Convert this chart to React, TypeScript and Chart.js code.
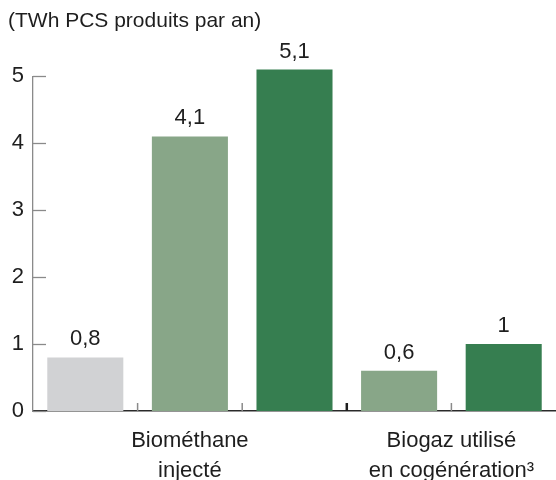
import React, { useEffect, useRef } from "react";
import { Chart, registerables } from "chart.js";

Chart.register(...registerables);

// ---- data ----
const unitLabel = "(TWh PCS produits par an)";
const groupLabels: string[][] = [
  ["Biométhane", "injecté"],
  ["Biogaz utilisé", "en cogénération³"],
];
// series per group (null = absent in that group)
const seriesGrey: (number | null)[] = [0.8, null];
const seriesLight: (number | null)[] = [4.1, 0.6];
const seriesDark: (number | null)[] = [5.1, 1];
const yTicks = [0, 1, 2, 3, 4, 5];

const FONT = "'Liberation Sans', Arial, sans-serif";
const TEXT = "#1e1e1e";
const COLORS = ["#d1d2d4", "#88a688", "#367e50"];

// build slot layout: each present series value occupies one slot
const allSeries = [seriesGrey, seriesLight, seriesDark];
type Slot = { series: number; value: number; group: number };
const slots: Slot[] = [];
const groupStarts: number[] = [];
const groupSizes: number[] = [];
groupLabels.forEach((_, g) => {
  groupStarts.push(slots.length);
  allSeries.forEach((s, si) => {
    const v = s[g];
    if (v !== null && v !== undefined) slots.push({ series: si, value: v, group: g });
  });
  groupSizes.push(slots.length - groupStarts[g]);
});
const slotLabels = slots.map((_, i) => String(i));
const datasetsData = allSeries.map((_, si) =>
  slots.map((s) => (s.series === si ? s.value : null))
);
// half-slot label axis
const halfLabels: (string | string[])[] = Array.from({ length: slots.length * 2 + 1 }, () => "");
groupLabels.forEach((lbl, g) => {
  halfLabels[2 * groupStarts[g] + groupSizes[g]] = lbl;
});

const fmt = (v: number) => String(v).replace(".", ",");

const valueLabels = {
  id: "valueLabels",
  afterDatasetsDraw(chart: any) {
    const ctx = chart.ctx;
    ctx.save();
    ctx.font = `22px ${FONT}`;
    ctx.fillStyle = TEXT;
    ctx.textAlign = "center";
    ctx.textBaseline = "alphabetic";
    chart.data.datasets.forEach((ds: any, di: number) => {
      const meta = chart.getDatasetMeta(di);
      meta.data.forEach((el: any, i: number) => {
        const v = ds.data[i];
        if (v === null || v === undefined) return;
        ctx.fillText(fmt(v), el.x, el.y - 12);
      });
    });
    ctx.restore();
  },
};

const innerTicks = {
  id: "innerTicks",
  afterDraw(chart: any) {
    const ctx = chart.ctx;
    const { left, bottom } = chart.chartArea;
    const ys = chart.scales.y;
    const xs = chart.scales.x;
    ctx.save();
    ctx.strokeStyle = "#8a8a8a";
    ctx.lineWidth = 1.3;
    yTicks.forEach((v) => {
      const y = Math.round(ys.getPixelForValue(v)) + 0.5;
      ctx.beginPath();
      ctx.moveTo(left, y);
      ctx.lineTo(left + 13, y);
      ctx.stroke();
    });
    const sepIdx = new Set(groupStarts.slice(1));
    for (let i = 1; i < slots.length; i++) {
      const x = (xs.getPixelForValue(i - 1) + xs.getPixelForValue(i)) / 2;
      const isSep = sepIdx.has(i);
      ctx.strokeStyle = isSep ? "#1e1e1e" : "#8a8a8a";
      ctx.lineWidth = isSep ? 2.5 : 1.5;
      ctx.beginPath();
      ctx.moveTo(x, bottom);
      ctx.lineTo(x, bottom - 8);
      ctx.stroke();
    }
    ctx.restore();
  },
};

export default function App() {
  const ref = useRef<HTMLCanvasElement | null>(null);
  useEffect(() => {
    if (!ref.current) return;
    const chart = new Chart(ref.current, {
      type: "bar",
      data: {
        labels: slotLabels,
        datasets: datasetsData.map((d, si) => ({
          label: "s" + si,
          data: d,
          backgroundColor: COLORS[si],
          borderWidth: 0,
          grouped: false,
          barPercentage: 0.727,
          categoryPercentage: 1,
          clip: false,
        })) as any,
      },
      options: {
        animation: false,
        responsive: true,
        maintainAspectRatio: false,
        layout: { padding: { left: 8, right: 0, top: 0, bottom: 0 } },
        plugins: {
          legend: { display: false },
          tooltip: { enabled: false },
          title: {
            display: true,
            text: unitLabel,
            align: "start",
            color: TEXT,
            font: { family: FONT, size: 21, weight: "normal" },
            padding: { top: 9, bottom: 42 },
          },
        },
        scales: {
          x: {
            type: "category",
            offset: true,
            grid: { display: false, drawTicks: false },
            ticks: { display: false },
            border: { display: true, color: "#2a2a2a", width: 1.6 },
            afterFit: (s: any) => {
              s.height = 15;
            },
          },
          x2: {
            type: "category",
            position: "bottom",
            labels: halfLabels as any,
            offset: false,
            grid: { display: false, drawTicks: false },
            border: { display: false },
            ticks: {
              autoSkip: false,
              maxRotation: 0,
              minRotation: 0,
              padding: 0,
              color: TEXT,
              font: { family: FONT, size: 22, lineHeight: 1.36 },
            },
            afterFit: (s: any) => {
              s.height = 54;
            },
          },
          y: {
            min: 0,
            max: 5,
            grid: { display: false, drawTicks: false },
            border: { display: true, color: "#8a8a8a", width: 1.3 },
            ticks: {
              stepSize: 1,
              padding: 9,
              color: TEXT,
              font: { family: FONT, size: 22 },
              callback: (v: any) => fmt(Number(v)),
            },
            afterFit: (s: any) => {
              s.width = 25;
            },
          },
        },
      },
      plugins: [valueLabels, innerTicks],
    });
    return () => chart.destroy();
  }, []);
  return (
    <div style={{ position: "absolute", left: 0, top: 0, width: 556, height: 480 }}>
      <canvas ref={ref} />
    </div>
  );
}
